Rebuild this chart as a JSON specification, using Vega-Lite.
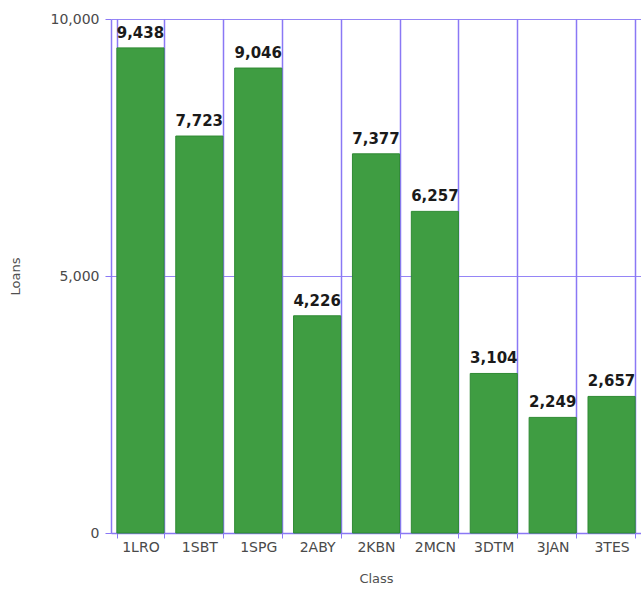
{
  "$schema": "https://vega.github.io/schema/vega-lite/v6.json",
  "autosize": {"type": "none"},
  "padding": {"left": 111, "top": 19, "right": 0, "bottom": 56},
  "width": 530,
  "height": 514,
  "background": "white",
  "config": {
    "font": "DejaVu Sans",
    "view": {"stroke": null}
  },
  "data": {
    "values": [
      {"Class": "1LRO", "Loans": 9438},
      {"Class": "1SBT", "Loans": 7723},
      {"Class": "1SPG", "Loans": 9046},
      {"Class": "2ABY", "Loans": 4226},
      {"Class": "2KBN", "Loans": 7377},
      {"Class": "2MCN", "Loans": 6257},
      {"Class": "3DTM", "Loans": 3104},
      {"Class": "3JAN", "Loans": 2249},
      {"Class": "3TES", "Loans": 2657}
    ]
  },
  "encoding": {
    "x": {
      "field": "Class",
      "type": "nominal",
      "sort": null,
      "scale": {"paddingInner": 0.2, "paddingOuter": 0.1},
      "axis": {
        "title": "Class",
        "titleFontSize": 13,
        "titleFontWeight": "normal",
        "titleColor": "#505050",
        "titlePadding": 18,
        "labelAngle": 0,
        "labelFontSize": 14,
        "labelColor": "#4a4a4a",
        "labelPadding": 2,
        "tickBand": "extent",
        "tickColor": "#8a78f5",
        "tickSize": 5,
        "grid": true,
        "gridColor": "#8a78f5",
        "gridWidth": 1.5,
        "gridOpacity": 1,
        "domainColor": "#8a78f5",
        "domainWidth": 1.5
      }
    },
    "y": {
      "field": "Loans",
      "type": "quantitative",
      "scale": {"domain": [0, 10000]},
      "axis": {
        "title": "Loans",
        "titleFontSize": 13,
        "titleFontWeight": "normal",
        "titleColor": "#505050",
        "titlePadding": 28,
        "values": [0, 5000, 10000],
        "labelExpr": "format(datum.value, ',')",
        "labelFontSize": 14,
        "labelColor": "#4a4a4a",
        "labelPadding": 6,
        "tickColor": "#8a78f5",
        "tickSize": 6,
        "grid": true,
        "gridColor": "#8a78f5",
        "gridWidth": 1.2,
        "gridOpacity": 0.9,
        "domainColor": "#8a78f5",
        "domainWidth": 1.5
      }
    }
  },
  "layer": [
    {
      "mark": {"type": "bar", "color": "#3f9d42", "stroke": "#2f8a33", "strokeWidth": 1}
    },
    {
      "mark": {
        "type": "text",
        "baseline": "bottom",
        "dy": -7,
        "fontSize": 15,
        "fontWeight": "bold",
        "color": "#1a1a1a"
      },
      "encoding": {
        "text": {"field": "Loans", "type": "quantitative", "format": ","}
      }
    }
  ]
}
